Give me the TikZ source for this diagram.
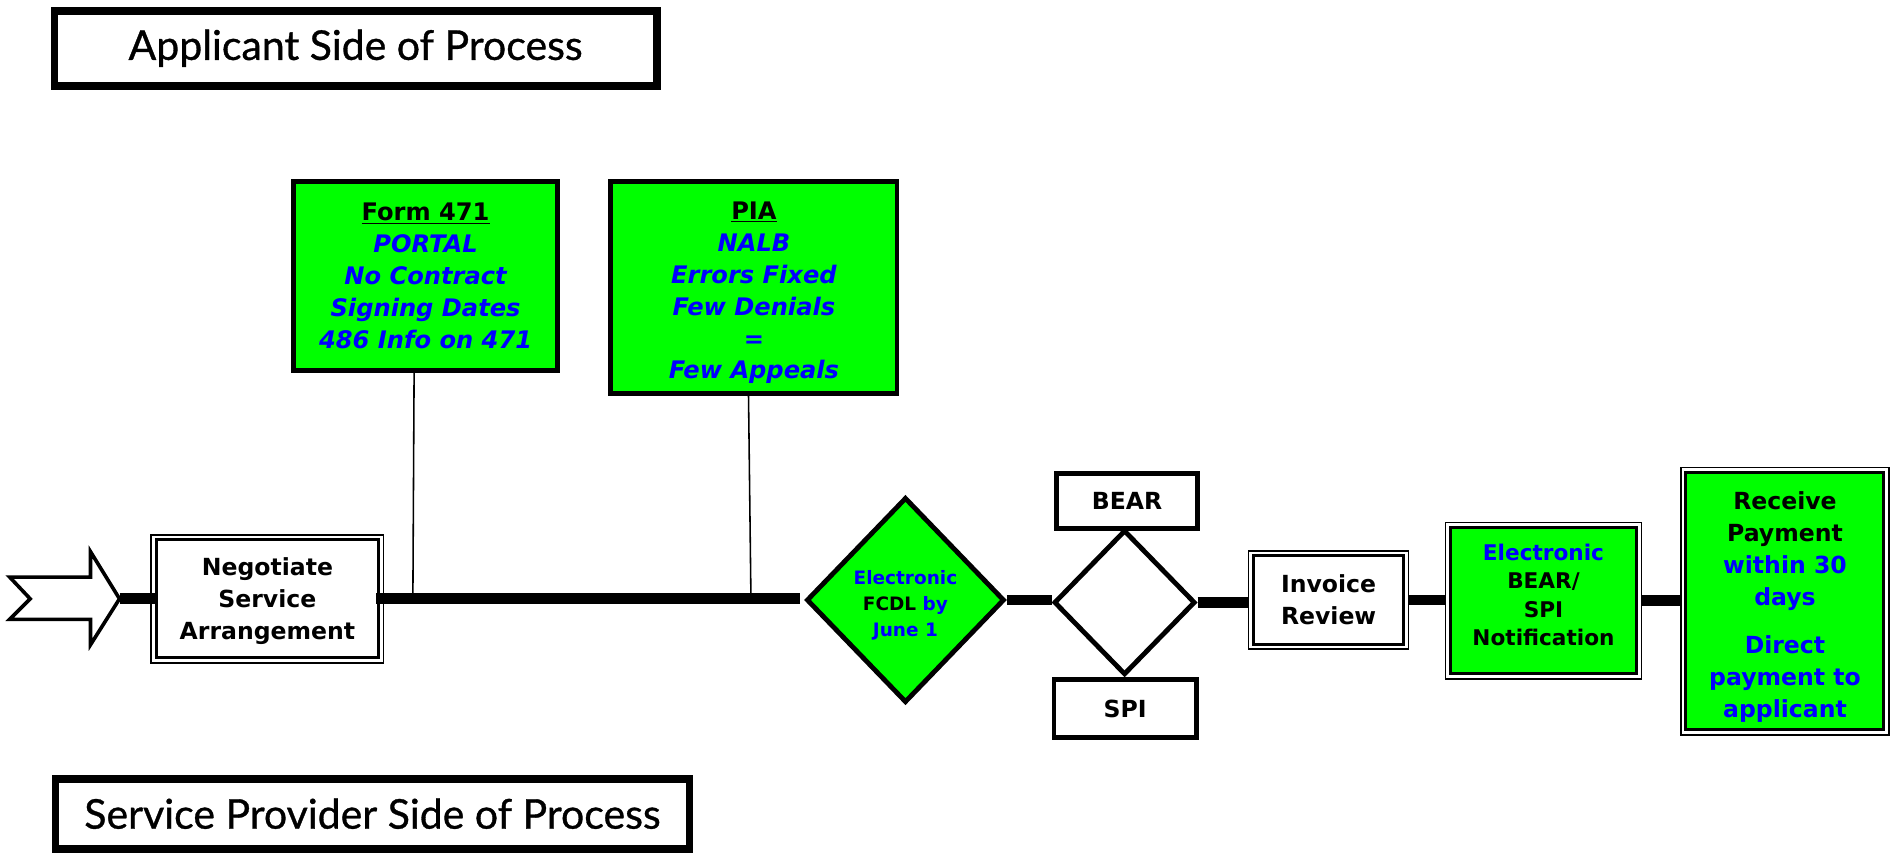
\documentclass[tikz,border=0pt]{standalone}
\usepackage{fontspec}
\setmainfont{DejaVu Sans}
\newfontfamily\titlefont{Lato}[FakeBold=0.8]
\usetikzlibrary{shapes.geometric,calc}
\definecolor{lgreen}{RGB}{0,255,0}
\definecolor{tblue}{RGB}{0,0,255}
\newcommand{\topgap}[1]{\rule{0pt}{#1}}
\newcommand{\botgap}[1]{\rule[-#1]{0pt}{0pt}}
\begin{document}
\begin{tikzpicture}[x=1pt,y=-1pt,
  titlebox/.style={draw,line width=6.3pt,inner sep=0pt,font=\titlefont\fontsize{34}{36}\selectfont},
  greenbox/.style={draw,line width=4pt,fill=lgreen,inner sep=0pt,align=center,font=\bfseries\fontsize{20}{26.4}\selectfont},
  plainbox/.style={draw,line width=4pt,fill=white,inner sep=0pt,align=center,font=\bfseries\fontsize{19.5}{26.5}\selectfont},
  dblbox/.style={draw,line width=2.5pt,inner sep=0pt,align=center,font=\bfseries\fontsize{19.5}{26.6}\selectfont},
  dia/.style={diamond,draw,line width=4pt,inner sep=0pt,align=center,font=\bfseries\fontsize{15.3}{21.5}\selectfont},
  mainline/.style={line width=9pt},
  thinline/.style={line width=1.3pt},
  outerline/.style={line width=1.3pt}
]
\useasboundingbox (0,0) rectangle (1568,707.4);

% titles
\node[titlebox,minimum width=499pt,minimum height=62pt] (tapp) at (294.5,40) {Applicant Side of Process};
\node[titlebox,minimum width=525pt,minimum height=58pt] (tsp) at (308.5,674) {Service Provider Side of Process};

% top green boxes
\node[greenbox,minimum width=219pt,minimum height=157pt] (f471) at (352.5,228.5)
  {\underline{Form 471}\\{\color{tblue}\itshape PORTAL}\\{\color{tblue}\itshape No Contract}\\{\color{tblue}\itshape Signing Dates}\\{\color{tblue}\itshape 486 Info on 471}};
\node[greenbox,minimum width=237pt,minimum height=176pt] (pia) at (624.5,238)
  {\topgap{24pt}\underline{PIA}\\{\color{tblue}\itshape NALB}\\{\color{tblue}\itshape Errors Fixed}\\{\color{tblue}\itshape Few Denials}\\{\color{tblue}\itshape =}\\{\color{tblue}\itshape Few Appeals}};

% start arrow
\draw[line width=3pt,fill=white,line join=miter] (8,478) -- (75,478) -- (75,457) -- (99,496) -- (75,534) -- (75,513) -- (8,513) -- (25,496) -- cycle;
\coordinate (tip) at (99,496);

% process nodes
\node[dblbox,minimum width=184pt,minimum height=97.5pt] (neg) at (221.5,496) {\topgap{18pt}Negotiate\\Service\\Arrangement};
\node[dia,fill=lgreen,minimum width=164pt,minimum height=170pt] (fcdl) at (750,497)
  {\topgap{20pt}{\color{tblue}Electronic}\\FCDL {\color{tblue}by}\\{\color{tblue}June 1}};
\node[dia,fill=white,minimum width=117pt,minimum height=120pt] (d2) at (931.5,499) {};
\node[plainbox,minimum width=117pt,minimum height=45pt] (bear) at (933.5,415) {BEAR};
\node[plainbox,minimum width=118pt,minimum height=48pt] (spi) at (932,587) {SPI};
\node[dblbox,minimum width=124pt,minimum height=73pt] (inv) at (1100.5,497) {Invoice\\Review};
\node[dblbox,fill=lgreen,minimum width=154pt,minimum height=121pt,font=\bfseries\fontsize{17.9}{23.7}\selectfont] (notif) at (1278.5,497.6)
  {{\color{tblue}Electronic}\\BEAR/\\SPI\\Notification\botgap{10pt}};
\node[dblbox,fill=lgreen,minimum width=164pt,minimum height=213pt] (pay) at (1478.5,498)
  {\topgap{24pt}Receive\\Payment\\{\color{tblue}within 30}\\{\color{tblue}days}\\[13pt]{\color{tblue}Direct}\\{\color{tblue}payment to}\\{\color{tblue}applicant}};

% outer thin borders of double boxes
\foreach \n in {neg,inv,notif,pay}{
  \draw[outerline] ([shift={(-3pt,3pt)}]\n.north west) rectangle ([shift={(3pt,-3pt)}]\n.south east);
}

% main flow line
\draw[mainline] (tip) -- (tip -| neg.west);
\draw[mainline] ([xshift=-3pt]neg.east) -- ([xshift=-3pt]neg.east -| fcdl.west);
\draw[mainline] (fcdl.east) -- (fcdl.east -| d2.west);
\draw[mainline] (d2.east) -- ([xshift=-3pt]d2.east -| inv.west);
\draw[mainline] ([xshift=3pt]inv.east) -- ([xshift=-3pt]inv.east -| notif.west);
\draw[mainline] ([xshift=3pt]notif.east) -- ([xshift=-3pt]notif.east -| pay.west);

% thin vertical connectors
\coordinate (j1) at (342,494);
\coordinate (j2) at (622,494);
\draw[thinline] ([xshift=-9.5pt]f471.south) -- (j1);
\draw[thinline] ([xshift=-4.5pt]pia.south) -- (j2);
\end{tikzpicture}
\end{document}
